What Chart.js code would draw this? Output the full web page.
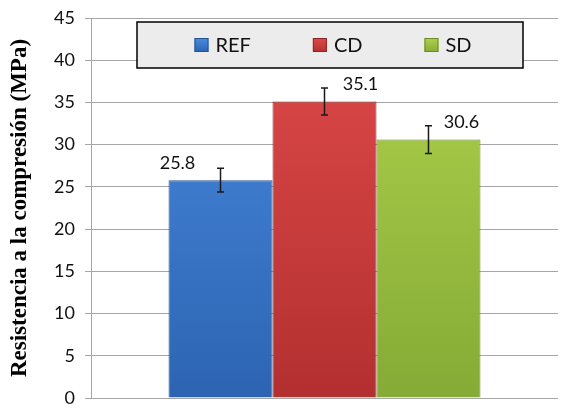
<!DOCTYPE html>
<html>
<head>
<meta charset="utf-8">
<script src="https://cdn.jsdelivr.net/npm/chart.js@4.4.1/dist/chart.umd.min.js"></script>
<style>
  html, body { margin: 0; padding: 0; background: #fff; }
  #wrap { width: 563px; height: 410px; position: relative; }
</style>
</head>
<body>
<div id="wrap"><canvas id="chart" width="563" height="410"></canvas></div>
<script>
const series = ['REF', 'CD', 'SD'];
const values = [25.8, 35.1, 30.6];
const errors = [1.4, 1.6, 1.65];
const yTicks = [0, 5, 10, 15, 20, 25, 30, 35, 40, 45];
const yTitle = 'Resistencia a la compresión (MPa)';

// top / bottom colour of each bar gradient
const topColors = ['#4b8be0', '#e04a4a', '#afd24c'];
const botColors = ['#2c64b2', '#b33030', '#86ab36'];
const edgeColors = ['#24558f', '#8e2626', '#6b8a2a'];
const labelDx = [-43, 36, 33];

function grad(i) {
  return (ctx) => {
    const { chart } = ctx;
    const area = chart.chartArea;
    if (!area) return topColors[i];
    const g = chart.ctx.createLinearGradient(0, area.top, 0, area.bottom);
    g.addColorStop(0, topColors[i]);
    g.addColorStop(1, botColors[i]);
    return g;
  };
}

const extras = {
  id: 'extras',
  afterDatasetsDraw(chart) {
    const ctx = chart.ctx;
    const y = chart.scales.y;
    ctx.save();
    chart.data.datasets.forEach((ds, i) => {
      const bar = chart.getDatasetMeta(i).data[0];
      const v = ds.data[0];
      // error bar
      const yHi = y.getPixelForValue(v + errors[i]);
      const yLo = y.getPixelForValue(v - errors[i]);
      ctx.strokeStyle = '#1a1a1a';
      ctx.lineWidth = 1.5;
      ctx.beginPath();
      ctx.moveTo(bar.x, yHi); ctx.lineTo(bar.x, yLo);
      ctx.moveTo(bar.x - 3.5, yHi); ctx.lineTo(bar.x + 3.5, yHi);
      ctx.moveTo(bar.x - 3.5, yLo); ctx.lineTo(bar.x + 3.5, yLo);
      ctx.stroke();
      // value label
      ctx.fillStyle = '#111';
      ctx.font = '18px Lato';
      ctx.textAlign = 'center';
      ctx.textBaseline = 'middle';
      ctx.fillText(v.toFixed(1), bar.x + labelDx[i], bar.y - 17);
    });

    // legend box
    const bx = 137, by = 22, bw = 386, bh = 46;
    ctx.fillStyle = '#ececec';
    ctx.fillRect(bx, by, bw, bh);
    ctx.strokeStyle = '#000';
    ctx.lineWidth = 1.5;
    ctx.strokeRect(bx, by, bw, bh);
    ctx.font = '20px Lato';
    ctx.textAlign = 'left';
    const sq = 14, gap = 7, spacing = 62;
    const widths = series.map(s => sq + gap + ctx.measureText(s).width);
    const total = widths.reduce((a, b) => a + b, 0) + spacing * (series.length - 1);
    let x = bx + bw / 2 - total / 2 + 3;
    const cy = by + bh / 2;
    series.forEach((s, i) => {
      const g = ctx.createLinearGradient(0, cy - sq / 2, 0, cy + sq / 2);
      g.addColorStop(0, topColors[i]);
      g.addColorStop(1, botColors[i]);
      ctx.fillStyle = g;
      ctx.fillRect(x, cy - sq / 2, sq, sq);
      ctx.strokeStyle = edgeColors[i];
      ctx.lineWidth = 1;
      ctx.strokeRect(x + 0.5, cy - sq / 2 + 0.5, sq - 1, sq - 1);
      ctx.fillStyle = '#111';
      ctx.fillText(s, x + sq + gap, cy + 1);
      x += widths[i] + spacing;
    });
    ctx.restore();
  }
};

new Chart(document.getElementById('chart'), {
  type: 'bar',
  data: {
    labels: [''],
    datasets: series.map((s, i) => ({
      label: s,
      data: [values[i]],
      backgroundColor: grad(i),
      borderColor: edgeColors[i],
      borderWidth: 1,
      categoryPercentage: 0.668,
      barPercentage: 1
    }))
  },
  options: {
    responsive: false,
    animation: false,
    layout: { padding: { top: 18, right: 5, bottom: 12, left: 6 } },
    plugins: { legend: { display: false }, tooltip: { enabled: false } },
    scales: {
      x: { display: false },
      y: {
        min: 0, max: 45,
        afterBuildTicks: (scale) => { scale.ticks = yTicks.map(v => ({ value: v })); },
        afterFit: (scale) => { scale.width = 85; scale.paddingTop = 0; scale.paddingBottom = 0; },
        grid: { color: '#a6a6a6', tickLength: 6, lineWidth: 1 },
        border: { color: '#a6a6a6' },
        ticks: { padding: 10, color: '#111', font: { family: 'Lato', size: 18 } },
        title: {
          display: true, text: yTitle, color: '#000', padding: { top: 0, bottom: 4 },
          font: { family: 'Liberation Serif', size: 23, weight: 'bold' }
        }
      }
    }
  },
  plugins: [extras]
});
</script>
</body>
</html>
